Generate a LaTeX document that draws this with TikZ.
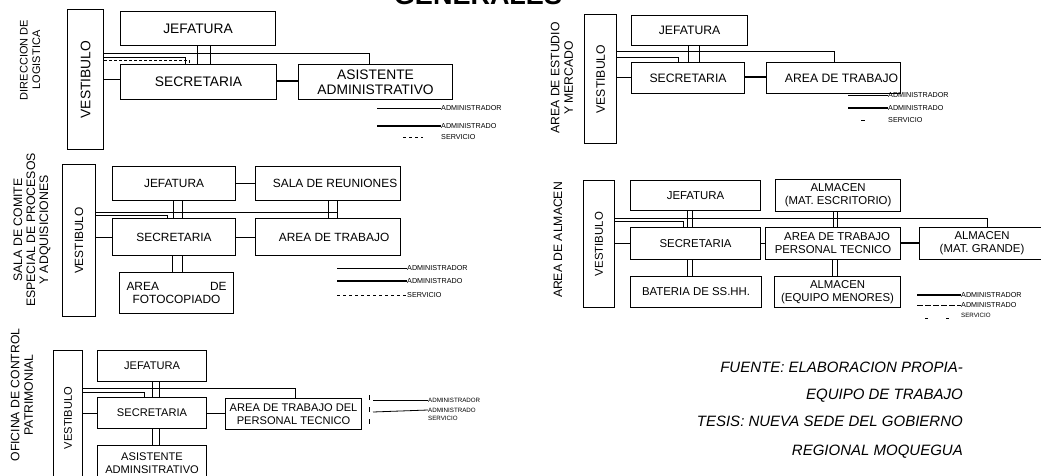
\documentclass[tikz,border=0pt]{standalone}
\usepackage{fontspec}
\setmainfont{Liberation Sans}
\usetikzlibrary{calc}
\newcommand{\fsA}{\fontsize{13.8}{15.2}\selectfont}
\newcommand{\fsB}{\fontsize{12.2}{13.5}\selectfont}
\newcommand{\fsC}{\fontsize{11.9}{13}\selectfont}
\newcommand{\fsD}{\fontsize{11.4}{13}\selectfont}
\newcommand{\fsE}{\fontsize{11.1}{13}\selectfont}
\begin{document}
\begin{tikzpicture}[x=1pt,y=-1pt,
  box/.style={draw, line width=1.1pt, inner sep=0pt, anchor=north west, align=center},
  ln/.style={line width=0.8pt},
  lnb/.style={line width=1.1pt},
  side/.style={rotate=90, align=center, inner sep=0pt},
  leg/.style={anchor=west, inner sep=0pt, font=\fontsize{7.2}{7.5}\selectfont},
  legs/.style={anchor=west, inner sep=0pt, font=\fontsize{6.2}{6.5}\selectfont},
  foot/.style={anchor=base east, inner sep=0pt, font=\itshape\fontsize{15}{17}\selectfont}]
\useasboundingbox (0,0) rectangle (1041,476);
\clip (0,0) rectangle (1041,476);
\fill[white] (0,0) rectangle (1041,476);

% title
\node[anchor=base, inner sep=0pt, font=\bfseries\fontsize{27}{30}\selectfont] (title) at (478,5) {GENERALES};

% ===== Section 1: Direccion de Logistica
\node[side, font=\fontsize{11}{12.5}\selectfont] (t1) at (30,60) {DIRECCION DE\\LOGISTICA};
\begin{scope}[font=\fsA]
\node[box, minimum width=36, minimum height=140] (v1) at (67,9) {\rotatebox{90}{VESTIBULO}};
\node[box, minimum width=155, minimum height=34] (j1) at (120,11) {JEFATURA};
\node[box, minimum width=156, minimum height=35] (s1) at (120,64) {SECRETARIA};
\node[box, minimum width=154, minimum height=35] (a1) at (298,64) {ASISTENTE\\ADMINISTRATIVO};
\end{scope}
\draw[ln] (v1.east |- 0,53) -| (a1.north -| 369,0);
\draw[ln] (v1.east |- 0,57) -| (s1.north -| 185,0);
\draw[ln, densely dashed] (v1.east |- 0,60) -| (s1.north -| 189,0);
\draw[ln] (j1.south -| 197,0) -- (s1.north -| 197,0);
\draw[ln] (j1.south -| 210,0) -- (s1.north -| 210,0);
\draw[ln] (v1.east |- 0,79) -- (s1.west |- 0,79);
\draw[lnb] (s1.east |- 0,81) -- (a1.west |- 0,81);
\node[leg] (la1) at (441,108) {ADMINISTRADOR};
\node[leg] (lb1) at (441,126) {ADMINISTRADO};
\node[leg] (lc1) at (441,137) {SERVICIO};
\coordinate (pa1) at (377,108);
\coordinate (pb1) at (377,126);
\coordinate (pc1) at (403,137);
\coordinate (qc1) at (423,137);
\draw[ln] (pa1) -- (la1.west);
\draw[lnb] (pb1) -- (lb1.west);
\draw[ln, dashed] (pc1) -- (qc1);

% ===== Section 2: Area de Estudio y Mercado
\node[side, font=\fsB] (t2) at (562,78) {AREA DE ESTUDIO\\Y MERCADO};
\begin{scope}[font=\fsB]
\node[box, minimum width=32, minimum height=129] (v2) at (584,14) {\rotatebox{90}{VESTIBULO}};
\node[box, minimum width=116, minimum height=30] (j2) at (631,15) {JEFATURA};
\node[box, minimum width=113, minimum height=31] (s2) at (631,62) {SECRETARIA};
\node[box, minimum width=134, minimum height=31] (a2) at (766,62) {\hspace*{16pt}AREA DE TRABAJO};
\end{scope}
\draw[ln] (v2.east |- 0,51) -| (a2.north -| 834,0);
\draw[ln] (v2.east |- 0,57) -| (s2.north -| 678,0);
\draw[ln] (j2.south -| 688,0) -- (s2.north -| 688,0);
\draw[ln] (j2.south -| 699,0) -- (s2.north -| 699,0);
\draw[ln] (v2.east |- 0,77) -- (s2.west |- 0,77);
\draw[lnb] (s2.east |- 0,77) -- (a2.west |- 0,77);
\node[leg] (la2) at (888,95) {ADMINISTRADOR};
\node[leg] (lb2) at (888,108) {ADMINISTRADO};
\node[leg] (lc2) at (888,120) {SERVICIO};
\coordinate (pa2) at (848,95);
\coordinate (pb2) at (848,108);
\coordinate (pc2) at (861,120);
\coordinate (qc2) at (865,120);
\draw[ln] (pa2) -- (la2.west);
\draw[lnb] (pb2) -- (lb2.west);
\draw[ln] (pc2) -- (qc2);

% ===== Section 3: Sala de comite
\node[side, font=\fontsize{12.3}{13}\selectfont] (t3) at (32,230) {SALA DE COMITE\\ESPECIAL DE PROCESOS\\Y ADQUISICIONES};
\begin{scope}[font=\fsC]
\node[box, minimum width=33, minimum height=152] (v3) at (62,164) {\rotatebox{90}{VESTIBULO}};
\node[box, minimum width=123, minimum height=34] (j3) at (112,166) {JEFATURA};
\node[box, minimum width=145, minimum height=34] (r3) at (255,166) {\hspace*{14pt}SALA DE REUNIONES};
\node[box, minimum width=123, minimum height=37] (s3) at (112,218) {SECRETARIA};
\node[box, minimum width=145, minimum height=37] (a3) at (255,218) {\hspace*{12pt}AREA DE TRABAJO};
\node[box, minimum width=114, minimum height=41] (f3) at (119,272) {\makebox[100pt][s]{AREA\hfill DE}\\FOTOCOPIADO};
\end{scope}
\draw[ln] (j3.east |- 0,183) -- (r3.west |- 0,183);
\draw[ln] (v3.east |- 0,212) -- (337,212);
\draw[ln] (v3.east |- 0,215) -| (s3.north -| 167,0);
\draw[ln] (j3.south -| 173,0) -- (s3.north -| 173,0);
\draw[ln] (j3.south -| 182,0) -- (s3.north -| 182,0);
\draw[ln] (r3.south -| 328,0) -- (a3.north -| 328,0);
\draw[ln] (r3.south -| 337,0) -- (a3.north -| 337,0);
\draw[ln] (v3.east |- 0,237) -- (s3.west |- 0,237);
\draw[ln] (s3.east |- 0,237) -- (a3.west |- 0,237);
\draw[ln] (s3.south -| 172,0) -- (f3.north -| 172,0);
\draw[ln] (s3.south -| 182,0) -- (f3.north -| 182,0);
\node[leg] (la3) at (407,268) {ADMINISTRADOR};
\node[leg] (lb3) at (407,281) {ADMINISTRADO};
\node[leg] (lc3) at (407,295) {SERVICIO};
\coordinate (pa3) at (337,268);
\coordinate (pb3) at (337,281);
\coordinate (pc3) at (337,295);
\draw[ln] (pa3) -- (la3.west);
\draw[lnb] (pb3) -- (lb3.west);
\draw[line width=0.6pt, dashed] (pc3) -- (lc3.west);

% ===== Section 4: Area de Almacen
\node[side, font=\fsB] (t4) at (558,240) {AREA DE ALMACEN};
\begin{scope}[font=\fsD]
\node[box, minimum width=31, minimum height=127] (v4) at (583,180) {\rotatebox{90}{VESTIBULO}};
\node[box, minimum width=130, minimum height=30] (j4) at (630,180) {JEFATURA};
\node[box, minimum width=125, minimum height=32] (e4) at (775,179) {ALMACEN\\(MAT. ESCRITORIO)};
\node[box, minimum width=130, minimum height=32] (s4) at (630,227) {SECRETARIA};
\node[box, minimum width=135, minimum height=32] (a4) at (765,227) {\hspace*{8pt}AREA DE TRABAJO\\PERSONAL TECNICO};
\node[box, minimum width=125, minimum height=32] (g4) at (919,227) {ALMACEN\\(MAT. GRANDE)};
\node[box, minimum width=131, minimum height=31] (b4) at (630,276) {BATERIA DE SS.HH.};
\node[box, minimum width=126, minimum height=31] (q4) at (774,276) {ALMACEN\\(EQUIPO MENORES)};
\end{scope}
\draw[ln] (v4.east |- 0,218) -| (g4.north -| 987,0);
\draw[ln] (v4.east |- 0,221) -| (s4.north -| 683,0);
\draw[ln] (j4.south -| 687,0) -- (s4.north -| 687,0);
\draw[ln] (j4.south -| 692,0) -- (s4.north -| 692,0);
\draw[ln] (e4.south -| 833,0) -- (a4.north -| 833,0);
\draw[ln] (e4.south -| 837,0) -- (a4.north -| 837,0);
\draw[ln] (s4.south -| 687,0) -- (b4.north -| 687,0);
\draw[ln] (s4.south -| 692,0) -- (b4.north -| 692,0);
\draw[ln] (a4.south -| 832,0) -- (q4.north -| 832,0);
\draw[ln] (a4.south -| 837,0) -- (q4.north -| 837,0);
\draw[ln] (v4.east |- 0,243) -- (s4.west |- 0,243);
\draw[ln] (s4.east |- 0,243) -- (a4.west |- 0,243);
\draw[lnb] (a4.east |- 0,243) -- (g4.west |- 0,243);
\node[leg] (la4) at (961,295) {ADMINISTRADOR};
\node[leg] (lb4) at (961,305) {ADMINISTRADO};
\node[legs] (lc4) at (961,315) {SERVICIO};
\coordinate (pa4) at (917,295);
\coordinate (pb4) at (917,305);
\coordinate (pc4) at (925,318);
\coordinate (qc4) at (928,318);
\coordinate (rc4) at (946,318);
\coordinate (sc4) at (949,318);
\draw[lnb] (pa4) -- (la4.west);
\draw[ln, dash pattern=on 6pt off 2pt] (pb4) -- (lb4.west);
\draw[ln] (pc4) -- (qc4);
\draw[ln] (rc4) -- (sc4);

% ===== Section 5: Oficina de Control Patrimonial
\node[side, font=\fsB] (t5) at (22,395) {OFICINA DE CONTROL\\PATRIMONIAL};
\begin{scope}[font=\fsE]
\node[box, minimum width=29, minimum height=135] (v5) at (53,350) {\rotatebox{90}{VESTIBULO}};
\node[box, minimum width=109, minimum height=31] (j5) at (97,350) {JEFATURA};
\node[box, minimum width=109, minimum height=31] (s5) at (97,397) {SECRETARIA};
\node[box, minimum width=109, minimum height=36] (x5) at (97,445) {ASISTENTE\\ADMINSITRATIVO};
\node[box, minimum width=136, minimum height=31] (w5) at (225,398) {AREA DE TRABAJO DEL\\PERSONAL TECNICO};
\end{scope}
\draw[ln] (v5.east |- 0,388) -| (w5.north -| 295,0);
\draw[ln] (v5.east |- 0,392) -| (s5.north -| 144,0);
\draw[ln] (j5.south -| 152,0) -- (s5.north -| 152,0);
\draw[ln] (j5.south -| 159,0) -- (s5.north -| 159,0);
\draw[ln] (s5.south -| 152,0) -- (x5.north -| 152,0);
\draw[ln] (s5.south -| 159,0) -- (x5.north -| 159,0);
\draw[ln] (v5.east |- 0,413) -- (s5.west |- 0,413);
\draw[ln] (s5.east |- 0,413) -- (w5.west |- 0,413);
\coordinate (d5a) at (369,395);
\coordinate (d5b) at (369,428);
\draw[ln, dash pattern=on 5pt off 7pt] (d5a) -- (d5b);
\node[legs] (la5) at (428,400) {ADMINISTRADOR};
\node[legs] (lb5) at (428,410) {ADMINISTRADO};
\node[legs] (lc5) at (428,418) {SERVICIO};
\coordinate (pa5) at (373,400);
\coordinate (pb5) at (373,412);
\draw[ln] (pa5) -- (la5.west);
\draw[ln] (pb5) -- (lb5.west);

% ===== Footer
\node[foot] (f1) at (963,372) {FUENTE: ELABORACION PROPIA-};
\node[foot] (f2) at (963,399) {EQUIPO DE TRABAJO};
\node[foot] (f3t) at (963,426) {TESIS: NUEVA SEDE DEL GOBIERNO};
\node[foot] (f4) at (963,455) {REGIONAL MOQUEGUA};
\end{tikzpicture}
\end{document}
